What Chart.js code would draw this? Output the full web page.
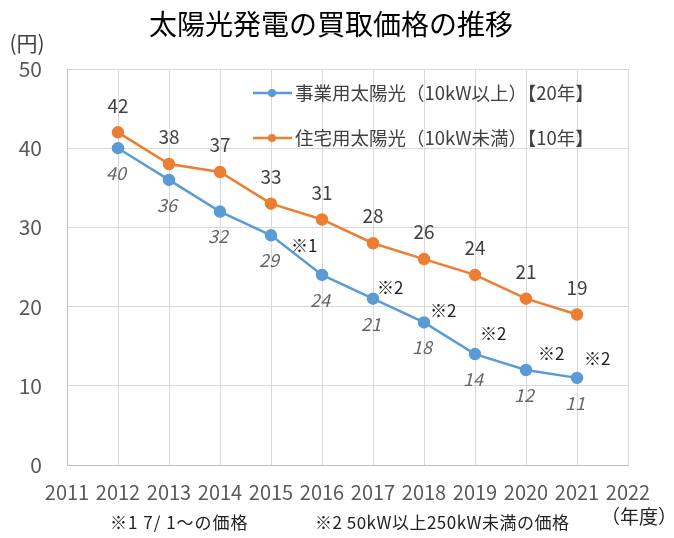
<!DOCTYPE html>
<html><head><meta charset="utf-8">
<script src="https://cdn.jsdelivr.net/npm/chart.js@4/dist/chart.umd.min.js"></script>
<style>html,body{margin:0;padding:0;background:#fff}#wrap{width:674px;height:538px}</style>
</head><body><div id="wrap"><canvas id="c" width="674" height="538"></canvas></div>
<script>
const years = [2012,2013,2014,2015,2016,2017,2018,2019,2020,2021];
const businessLabel = "事業用太陽光（10kW以上）【20年】";
const residentialLabel = "住宅用太陽光（10kW未満）【10年】";
const businessPrices = [40,36,32,29,24,21,18,14,12,11];
const residentialPrices = [42,38,37,33,31,28,26,24,21,19];
const businessNotes = ["","","","※1","","※2","※2","※2","※2","※2"];
const titleText = "太陽光発電の買取価格の推移";
const yUnit = "(円)";
const xUnit = "（年度）";
const footnote1 = "※1 7/ 1～の価格";
const footnote2 = "※2 50kW以上250kW未満の価格";
// label placement offsets (style only)
const noteOffsets = [null,null,null,[20,10],null,[4,-11],[6,-12],[5,-21],[12,-16],[7,-19]];
const FONT = "'Noto Sans CJK JP', 'Noto Sans', sans-serif";
const BLUE = "#5B9BD5", ORANGE = "#ED7D31";

const toPts = (ys) => years.map((x,i)=>({x, y: ys[i]}));

const deco = {
  id: 'deco',
  afterDatasetsDraw(chart) {
    const {ctx, scales:{x,y}} = chart;
    ctx.save();
    ctx.textAlign = 'center'; ctx.textBaseline = 'middle';
    // title
    ctx.fillStyle = '#000';
    ctx.font = `28px ${FONT}`;
    ctx.fillText(titleText, 331, 24);
    ctx.fillStyle = '#404040';
    ctx.font = `21px ${FONT}`;
    ctx.fillText(yUnit, 27, 43);
    // data labels
    ctx.font = `19px ${FONT}`;
    ctx.fillStyle = '#404040';
    residentialPrices.forEach((v,i)=>{
      ctx.fillText(String(v), x.getPixelForValue(years[i]), y.getPixelForValue(v) - 27);
    });
    ctx.font = `italic 18px ${FONT}`;
    ctx.fillStyle = '#666';
    businessPrices.forEach((v,i)=>{
      ctx.fillText(String(v), x.getPixelForValue(years[i]) - 2, y.getPixelForValue(v) + 25);
    });
    ctx.font = `17px ${FONT}`;
    ctx.fillStyle = '#222';
    ctx.textAlign = 'left';
    businessNotes.forEach((n,i)=>{
      if (!n) return;
      const px = x.getPixelForValue(years[i]), py = y.getPixelForValue(businessPrices[i]);
      const [dx, dy] = noteOffsets[i];
      ctx.fillText(n, px + dx, py + dy);
    });
    // legend
    const items = [[businessLabel, BLUE, 93],[residentialLabel, ORANGE, 138]];
    ctx.font = `18.5px ${FONT}`;
    items.forEach(([t,c,ly])=>{
      ctx.strokeStyle = c; ctx.lineWidth = 2.5;
      ctx.beginPath(); ctx.moveTo(253, ly); ctx.lineTo(292, ly); ctx.stroke();
      ctx.fillStyle = c; ctx.beginPath(); ctx.arc(272, ly, 4, 0, Math.PI*2); ctx.fill();
      ctx.fillStyle = '#404040'; ctx.textAlign = 'left';
      ctx.fillText(t, 295, ly);
    });
    // footnotes
    ctx.fillStyle = '#222';
    ctx.font = `17px ${FONT}`;
    ctx.letterSpacing = '1px';
    ctx.fillText(footnote1, 110, 523);
    ctx.letterSpacing = '0.5px';
    ctx.fillText(footnote2, 315, 523);
    ctx.letterSpacing = '0px';
    ctx.font = `19px ${FONT}`;
    ctx.fillText(xUnit, 601, 517);
    ctx.restore();
  }
};

new Chart(document.getElementById('c'), {
  type: 'line',
  data: {
    datasets: [
      {label: businessLabel, data: toPts(businessPrices), borderColor: BLUE, backgroundColor: BLUE,
       borderWidth: 2.5, pointRadius: 5, pointBackgroundColor: BLUE, pointBorderColor: BLUE, tension: 0},
      {label: residentialLabel, data: toPts(residentialPrices), borderColor: ORANGE, backgroundColor: ORANGE,
       borderWidth: 2.5, pointRadius: 5, pointBackgroundColor: ORANGE, pointBorderColor: ORANGE, tension: 0}
    ]
  },
  options: {
    responsive: false, animation: false, devicePixelRatio: 1,
    layout: {padding: {top: 69, right: 46, bottom: 0, left: 0}},
    plugins: {legend: {display: false}, tooltip: {enabled: false}, title: {display: false}},
    scales: {
      x: {type: 'linear', min: 2011, max: 2022,
          ticks: {stepSize: 1, padding: 15, color: '#595959', font: {family: FONT, size: 20}, callback: v => String(v), maxRotation: 0, autoSkip: false},
          grid: {color: '#d9d9d9', drawTicks: false}, border: {color: '#bfbfbf'},
          afterFit: s => { s.height = 538 - 465; }},
      y: {min: 0, max: 50,
          ticks: {stepSize: 10, padding: 25, color: '#595959', font: {family: FONT, size: 21}},
          grid: {color: '#d9d9d9', drawTicks: false}, border: {color: '#bfbfbf'},
          afterFit: s => { s.width = 67; }}
    }
  },
  plugins: [deco]
});
</script></body></html>
